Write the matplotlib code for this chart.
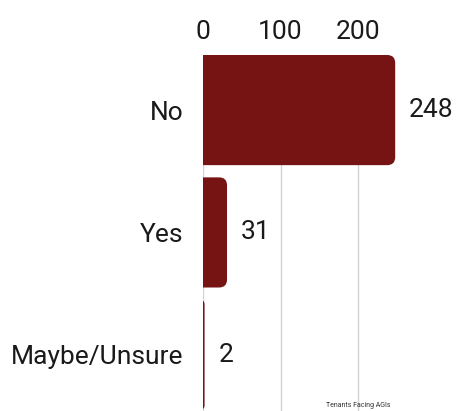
import matplotlib
matplotlib.use("Agg")
import matplotlib.pyplot as plt
from matplotlib.patches import FancyBboxPatch

categories = ["No", "Yes", "Maybe/Unsure"]
values = [248, 31, 2]
x_ticks = [0, 100, 200]
footnote = "Tenants Facing AGIs"

bar_color = "#761313"
W, H = 457, 411
fig = plt.figure(figsize=(W / 100, H / 100), dpi=100)
plt.rcParams["font.family"] = ["Roboto", "DejaVu Sans"]
FW = "normal"
FS = 19

left_px, right_px, top_px, bottom_px = 203, 440, 55, 416
ax = fig.add_axes([left_px / W, (H - bottom_px) / H,
                   (right_px - left_px) / W, (bottom_px - top_px) / H])

xmax = (right_px - left_px) / 0.775
ax.set_xlim(0, xmax)
ymin, ymax = -0.45, len(categories) - 0.5
ax.set_ylim(ymax, ymin)

bars = ax.barh(range(len(categories)), values, height=0.9, color=bar_color)

# rounded right corners
px_x = xmax / (right_px - left_px)
px_y = (ymax - ymin) / (bottom_px - top_px)
r_px = 8
rx = r_px * px_x
aspect = px_y / px_x
for b in bars:
    b.set_visible(False)
    x0, y0, w, h = b.get_x(), b.get_y(), b.get_width(), b.get_height()
    total = w + rx
    rs = min(rx, total / 2)
    p = FancyBboxPatch((x0 - rx, y0), total, h,
                       boxstyle=f"round,pad=0,rounding_size={rs}",
                       mutation_aspect=aspect, facecolor=bar_color,
                       edgecolor="none", zorder=3)
    ax.add_patch(p)
    ax.annotate(str(int(w)), xy=(w, y0 + h / 2), xytext=(10, 0),
                textcoords="offset points", va="center", ha="left",
                fontsize=FS, color="#1a1a1a", fontweight=FW)

ax.set_yticks(range(len(categories)))
ax.set_yticklabels(categories, fontsize=FS, color="#1a1a1a", fontweight=FW)
ax.set_xticks(x_ticks)
ax.set_xticklabels([str(t) for t in x_ticks], fontsize=FS, color="#1a1a1a",
                   fontweight=FW)
ax.xaxis.tick_top()
ax.tick_params(axis="both", length=0)
ax.tick_params(axis="y", pad=14)
ax.tick_params(axis="x", pad=8)
for s in ax.spines.values():
    s.set_visible(False)
ax.grid(axis="x", color="#d4d4d4", linewidth=1)
ax.set_axisbelow(True)

fig.text(358 / W, 1 - 405 / H, footnote, fontsize=5, color="#333333",
         ha="center", va="center")

fig.savefig("out.png", dpi=100)
